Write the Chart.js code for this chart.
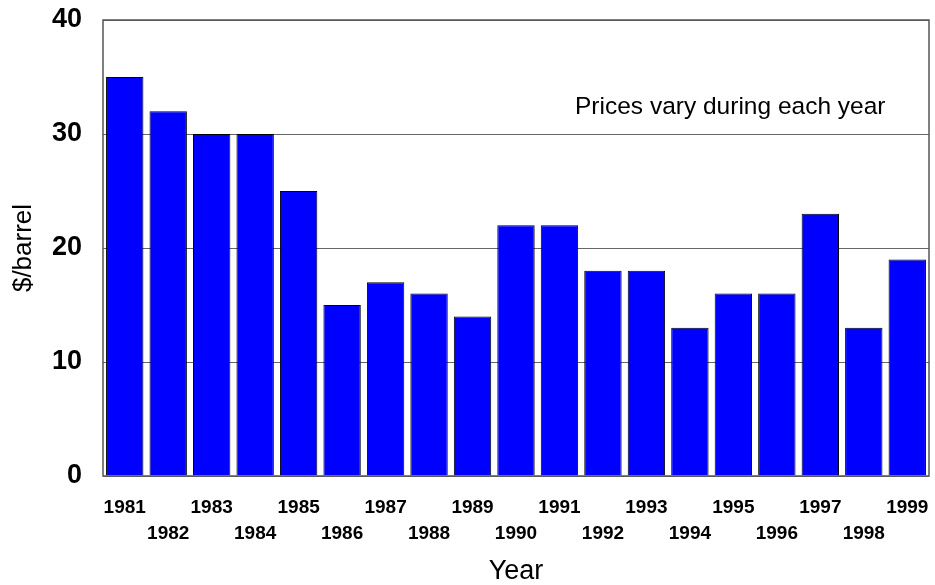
<!DOCTYPE html>
<html>
<head>
<meta charset="utf-8">
<script src="https://cdn.jsdelivr.net/npm/chart.js@4"></script>
<style>
  html, body { margin: 0; padding: 0; background: #fff; }
  #wrap { width: 935px; height: 585px; }
</style>
</head>
<body>
<div id="wrap"><canvas id="myChart" width="935" height="585"></canvas></div>
<script>
// data
let years = ['1981', '1982', '1983', '1984', '1985', '1986', '1987', '1988', '1989', '1990',
             '1991', '1992', '1993', '1994', '1995', '1996', '1997', '1998', '1999'];
let prices = [35, 32, 30, 30, 25, 15, 17, 16, 14, 22, 22, 18, 18, 13, 16, 16, 23, 13, 19];
let yTicks = [0, 10, 20, 30, 40];
let note = 'Prices vary during each year';

let fontFam = '"Liberation Sans", Arial, sans-serif';

// frame + note on top of the plot
let framePlugin = {
    id: 'frame',
    afterDraw(chart) {
        let c = chart.ctx;
        let a = chart.chartArea;
        c.save();
        c.strokeStyle = '#555';
        c.lineWidth = 1.5;
        c.strokeRect(a.left, a.top, a.right - a.left, a.bottom - a.top);
        c.fillStyle = '#000';
        c.font = '24.5px ' + fontFam;
        c.textAlign = 'left';
        c.textBaseline = 'middle';
        c.fillText(note, a.left + 472, a.top + 87);
        c.restore();
    }
};

let ctx = document.getElementById('myChart').getContext('2d');
let myChart = new Chart(ctx, {
    type: 'bar',
    data: {
        labels: years,
        datasets: [{
            data: prices,
            backgroundColor: '#0000FF',
            borderColor: '#000',
            borderWidth: 1,
            barPercentage: 0.86,
            categoryPercentage: 1.0
        }]
    },
    options: {
        responsive: false,
        animation: false,
        layout: { padding: { top: 20, right: 6, left: 0, bottom: 0 } },
        plugins: { legend: { display: false }, tooltip: { enabled: false } },
        scales: {
            x: {
                grid: { display: false, drawTicks: false },
                border: { display: false },
                ticks: {
                    autoSkip: false,
                    maxRotation: 0,
                    padding: 19,
                    color: '#000',
                    font: { family: fontFam, size: 19, weight: 'bold', lineHeight: 1.35 },
                    callback: function (v, i) { return i % 2 === 0 ? years[i] : ['', years[i]]; }
                },
                title: {
                    display: true,
                    text: 'Year',
                    color: '#000',
                    font: { family: fontFam, size: 27, lineHeight: 1 },
                    padding: { top: 0, bottom: 0 }
                },
                afterFit: function (s) {
                    s.height = 109;
                    s.paddingLeft = 0;
                    s.paddingRight = 0;
                }
            },
            y: {
                min: 0,
                max: 40,
                afterBuildTicks: function (s) { s.ticks = yTicks.map(v => ({ value: v })); },
                grid: { color: '#666', lineWidth: 1, drawTicks: false },
                border: { display: false },
                ticks: {
                    padding: 21,
                    color: '#000',
                    font: { family: fontFam, size: 27, weight: 'bold' }
                },
                title: {
                    display: true,
                    text: '$/barrel',
                    color: '#000',
                    font: { family: fontFam, size: 26, lineHeight: 1.2 },
                    padding: { top: 8, bottom: 0 }
                },
                afterFit: function (s) {
                    s.width = 103;
                    s.paddingTop = 0;
                    s.paddingBottom = 0;
                }
            }
        }
    },
    plugins: [framePlugin]
});
</script>
</body>
</html>
